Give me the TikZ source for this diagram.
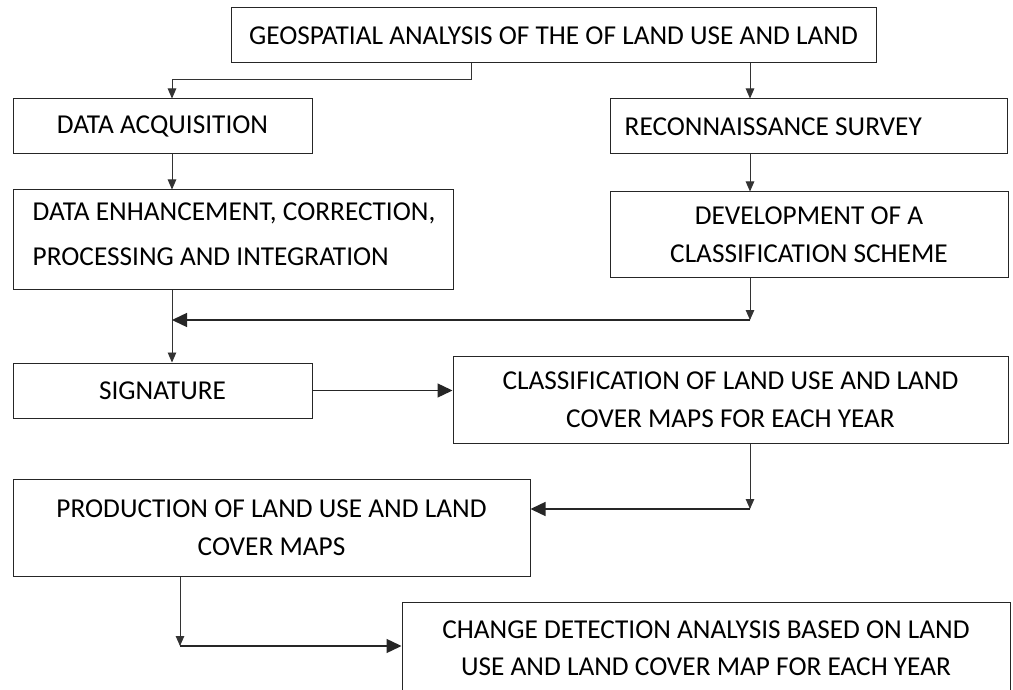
\documentclass[tikz,border=0pt]{standalone}
\usepackage{fontspec}
\setmainfont{Carlito}
\usetikzlibrary{arrows.meta}
\begin{document}
\begin{tikzpicture}[x=1pt,y=-1pt,
  box/.style={draw=black!85, line width=1pt, inner sep=0pt, align=center,
    font=\fontsize{27.3}{37.5}\selectfont},
  txt/.style={inner sep=0pt, anchor=west, align=left},
  arrS/.style={draw=black!80, line width=0.9pt, -{Triangle[length=10pt,width=8.5pt]}},
  arrL/.style={draw=black!85, line width=1.4pt, -{Triangle[length=15pt,width=14pt]}}]
\useasboundingbox (0,0) rectangle (1013,690);
\fill[white] (0,0) rectangle (1013,690);
% boxes
\node[box, minimum width=645, minimum height=55] (top) at (553.5,35.5)
  {GEOSPATIAL ANALYSIS OF THE OF LAND USE AND LAND};
\node[box, minimum width=299, minimum height=55] (acq) at (162.5,126.5)
  {DATA ACQUISITION};
\node[box, minimum width=397, minimum height=55] (rec) at (808.5,126.5) {};
\node[txt, font=\fontsize{27.3}{37.5}\selectfont] (rect) at ([xshift=15]rec.west)
  {RECONNAISSANCE SURVEY};
\node[box, minimum width=440, minimum height=99] (enh) at (233,239.5) {};
\node[txt, font=\fontsize{27.3}{45}\selectfont] (enht) at ([xshift=20,yshift=5]enh.west)
  {DATA ENHANCEMENT, CORRECTION,\\PROCESSING AND INTEGRATION};
\node[box, minimum width=398, minimum height=85] (dev) at (809,234.5)
  {DEVELOPMENT OF A\\CLASSIFICATION SCHEME};
\node[box, minimum width=299, minimum height=55] (sig) at (162.5,390.5)
  {SIGNATURE};
\node[box, minimum width=555, minimum height=87] (cls) at (730.5,399.5)
  {CLASSIFICATION OF LAND USE AND LAND\\COVER MAPS FOR EACH YEAR};
\node[box, minimum width=517, minimum height=97] (prod) at (271.5,527.5)
  {PRODUCTION OF LAND USE AND LAND\\COVER MAPS};
\node[box, minimum width=608, minimum height=92] (chg) at (706,648)
  {CHANGE DETECTION ANALYSIS BASED ON LAND\\USE AND LAND COVER MAP FOR EACH YEAR};
% helper coordinates
\coordinate (L) at (172,0);
\coordinate (R) at (750,0);
\coordinate (T1) at (471,79);
\coordinate (c2) at (750,320);
\coordinate (c3) at (750,509);
\coordinate (c4) at (180,646);
% connectors
\draw[arrS] (top.south -| T1) -- (T1) -- (T1 -| L) -- (acq.north -| L);
\draw[arrS] (top.south -| R) -- (rec.north -| R);
\draw[arrS] (acq.south -| L) -- (enh.north -| L);
\draw[arrS] (rec.south -| R) -- (dev.north -| R);
\draw[arrS] (enh.south -| L) -- (sig.north -| L);
\draw[arrS] (dev.south -| R) -- (c2);
\draw[arrL] (c2) -- (c2 -| L);
\draw[arrL] (sig.east) -- (sig.east -| cls.west);
\draw[arrS] (cls.south -| R) -- (c3);
\draw[arrL] (c3) -- (c3 -| prod.east);
\draw[arrS] (prod.south -| c4) -- (c4);
\draw[arrL] (c4) -- (c4 -| chg.west);
\end{tikzpicture}
\end{document}
